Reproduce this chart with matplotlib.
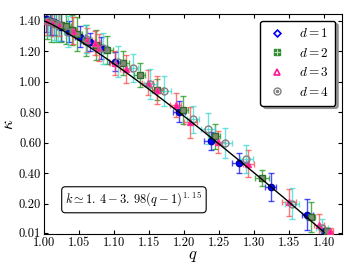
#!/usr/bin/env python3
# kappa vs q for d = 1..4, with the fitted power law
import numpy as np
from matplotlib import pyplot as plt
from matplotlib.lines import Line2D
from matplotlib.legend_handler import HandlerTuple

plt.rcParams["font.family"] = ["cmr10"]
plt.rcParams["mathtext.fontset"] = "cm"
plt.rcParams["axes.formatter.use_mathtext"] = True

# d = 1
d1_q = [1.003, 1.008, 1.015, 1.024, 1.036, 1.051, 1.066, 1.082, 1.101, 1.193, 1.238, 1.279, 1.324, 1.376, 1.401]
d1_k = [1.410, 1.400, 1.390, 1.360, 1.330, 1.297, 1.260, 1.221, 1.133, 0.805, 0.609, 0.467, 0.310, 0.128, 0.020]
d1_qerr = [0.004, 0.005, 0.005, 0.006, 0.006, 0.007, 0.007, 0.008, 0.008, 0.008, 0.010, 0.010, 0.008, 0.008, 0.005]
d1_kerr = [0.08, 0.09, 0.08, 0.09, 0.07, 0.07, 0.06, 0.07, 0.06, 0.07, 0.06, 0.065, 0.09, 0.10, 0.02]

# d = 2
d2_q = [1.004, 1.010, 1.017, 1.025, 1.032, 1.040, 1.047, 1.060, 1.075, 1.090, 1.113, 1.137, 1.162, 1.198, 1.244, 1.312, 1.381, 1.404]
d2_k = [1.400, 1.390, 1.380, 1.370, 1.367, 1.340, 1.313, 1.270, 1.240, 1.210, 1.122, 1.043, 0.948, 0.816, 0.641, 0.368, 0.113, 0.018]
d2_qerr = [0.004, 0.005, 0.005, 0.006, 0.006, 0.006, 0.007, 0.007, 0.007, 0.008, 0.008, 0.008, 0.008, 0.008, 0.008, 0.010, 0.006, 0.004]
d2_kerr = [0.12, 0.13, 0.12, 0.11, 0.12, 0.10, 0.11, 0.10, 0.10, 0.09, 0.08, 0.08, 0.07, 0.09, 0.08, 0.05, 0.10, 0.02]

# d = 3
d3_q = [1.005, 1.012, 1.021, 1.041, 1.062, 1.073, 1.079, 1.101, 1.117, 1.148, 1.162, 1.188, 1.209, 1.249, 1.292, 1.350, 1.393, 1.408]
d3_k = [1.400, 1.390, 1.380, 1.336, 1.275, 1.254, 1.225, 1.122, 1.085, 0.995, 0.945, 0.846, 0.733, 0.605, 0.462, 0.209, 0.062, 0.018]
d3_qerr = [0.004, 0.005, 0.005, 0.006, 0.006, 0.007, 0.007, 0.007, 0.008, 0.008, 0.008, 0.008, 0.009, 0.009, 0.008, 0.010, 0.007, 0.005]
d3_kerr = [0.09, 0.09, 0.08, 0.09, 0.08, 0.08, 0.09, 0.08, 0.09, 0.08, 0.09, 0.08, 0.10, 0.07, 0.087, 0.09, 0.07, 0.02]

# d = 4
d4_q = [1.006, 1.014, 1.020, 1.035, 1.060, 1.085, 1.106, 1.127, 1.152, 1.172, 1.213, 1.234, 1.259, 1.289, 1.355, 1.397]
d4_k = [1.400, 1.385, 1.370, 1.330, 1.280, 1.220, 1.133, 1.092, 0.985, 0.941, 0.753, 0.693, 0.598, 0.493, 0.200, 0.041]
d4_qerr = [0.004, 0.005, 0.006, 0.006, 0.007, 0.007, 0.008, 0.008, 0.009, 0.010, 0.008, 0.010, 0.010, 0.009, 0.010, 0.008]
d4_kerr = [0.10, 0.11, 0.10, 0.10, 0.09, 0.10, 0.10, 0.09, 0.10, 0.10, 0.09, 0.10, 0.10, 0.093, 0.10, 0.06]

xTicks = [1.00, 1.05, 1.10, 1.15, 1.20, 1.25, 1.30, 1.35, 1.40]
yTicks = [0.01, 0.20, 0.40, 0.60, 0.80, 1.00, 1.20, 1.40]

fig = plt.figure(figsize=(3.6, 2.7), dpi=100)
ax = fig.add_axes([0.122, 0.133, 0.828, 0.815])

series = [
    (d1_q, d1_k, d1_qerr, d1_kerr, "blue", dict(marker="o", mfc="blue", mec="#0000aa", ms=4.5)),
    (d2_q, d2_k, d2_qerr, d2_kerr, "#109010", dict(marker="s", mfc="#7f8f6f", mec="#2e6b2e", ms=4.5)),
    (d3_q, d3_k, d3_qerr, d3_kerr, "#ff4040", dict(marker="^", mfc="#ff1493", mec="#ff3399", ms=4.5)),
    (d4_q, d4_k, d4_qerr, d4_kerr, "#30d8d0", dict(marker="o", mfc="none", mec="gray", ms=5, mew=1.0)),
]
for q, k, qe, ke, ecol, mstyle in series:
    ax.errorbar(q, k, xerr=qe, yerr=ke, fmt="none", ecolor=ecol, elinewidth=1.0,
                capsize=2.5, capthick=1.0, alpha=0.7, zorder=2)
    ax.plot(q, k, ls="none", zorder=3, **mstyle)

qFit = np.linspace(1.0, 1.4, 200)
ax.plot(qFit, 1.4 - 3.98 * (qFit - 1) ** 1.15, color="black", lw=1.0, zorder=4)

ax.set_xlim(1.0, 1.4257)
ax.set_ylim(0.0, 1.445)
ax.set_xticks(xTicks)
ax.set_xticklabels([f"{t:.2f}" for t in xTicks], fontsize=9)
ax.set_yticks(yTicks)
ax.set_yticklabels([f"{t:.2f}" for t in yTicks], fontsize=9)
ax.tick_params(direction="in", top=True, right=True, length=3, pad=2)
ax.set_xlabel("$q$", fontsize=12, labelpad=0)
ax.set_ylabel(r"$\kappa$", fontsize=12, labelpad=2)

ax.text(0.302, 0.156, r"$k\simeq 1.\,4-3.\,98(q-1)^{1.\,15}$", transform=ax.transAxes,
        ha="center", va="center", fontsize=9,
        bbox=dict(boxstyle="round,pad=0.3", facecolor="white", edgecolor="black", lw=0.8))

legHandles = [
    Line2D([], [], ls="none", marker="D", mfc="white", mec="blue", ms=3.5, mew=1.2),
    (Line2D([], [], ls="none", marker="s", mfc="#2e8b2e", mec="#2e8b2e", ms=4.5),
     Line2D([], [], ls="none", marker="+", mec="#c0e0c0", ms=4, mew=0.8)),
    Line2D([], [], ls="none", marker="^", mfc="white", mec="#ff1493", ms=4.5, mew=1.2),
    (Line2D([], [], ls="none", marker="o", mfc="white", mec="gray", ms=5, mew=1.0),
     Line2D([], [], ls="none", marker="o", mfc="gray", mec="gray", ms=1.5)),
]
legLabels = ["$d=1$", "$d=2$", "$d=3$", "$d=4$"]
ax.legend(legHandles, legLabels, loc="upper right", fontsize=9.5, fancybox=True, shadow=True,
          framealpha=1, edgecolor="black", handlelength=1.5, handletextpad=0.9,
          labelspacing=0.5, borderpad=0.5,
          handler_map={tuple: HandlerTuple(ndivide=1)}, borderaxespad=0.5)

fig.savefig("out.png", dpi=100)
